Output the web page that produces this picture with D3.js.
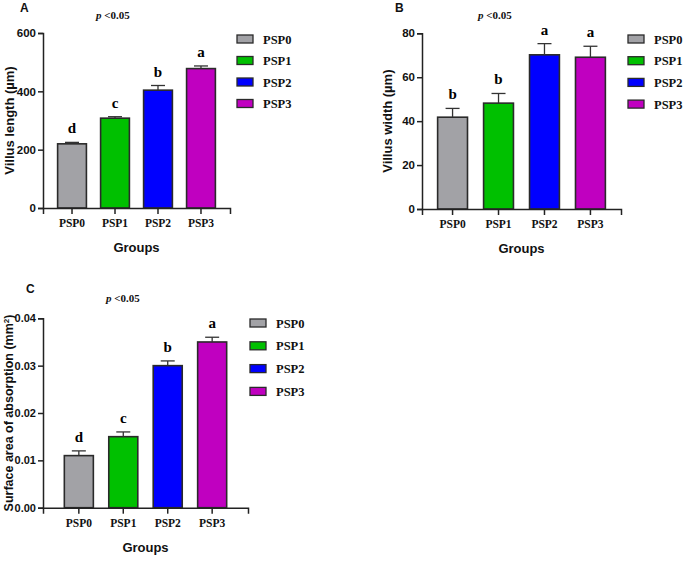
<!DOCTYPE html>
<html><head><meta charset="utf-8">
<script src="https://cdn.jsdelivr.net/npm/d3@7"></script>
<style>body{margin:0;background:#fff}svg{display:block}</style>
</head><body>
<svg id="c" width="685" height="562"></svg>
<script>
const groups = ["PSP0","PSP1","PSP2","PSP3"];
const colors = ["#A2A2A6","#00C000","#0000FF","#C000C0"];
const lengthMean = [220, 308, 404, 478];
const lengthErr = [5, 5, 16, 9];
const lengthLetters = ["d","c","b","a"];
const lengthTicks = [0, 200, 400, 600];
const widthMean = [41.8, 48.2, 70.2, 69.1];
const widthErr = [4.0, 4.4, 5.1, 5.0];
const widthLetters = ["b","b","a","a"];
const widthTicks = [0, 20, 40, 60, 80];
const areaMean = [0.011, 0.015, 0.030, 0.035];
const areaErr = [0.001, 0.001, 0.001, 0.001];
const areaLetters = ["d","c","b","a"];
const areaTicks = [0, 0.01, 0.02, 0.03, 0.04];

const svg = d3.select("#c");
const SANS = "'Liberation Sans', Arial, sans-serif";
const SERIF = "'Liberation Serif', 'Times New Roman', serif";

function panel(o){
  const g = svg.append("g");
  const x = d3.scaleBand().domain(groups).range([o.x0, o.x1]).paddingInner(o.pi).paddingOuter(o.po);
  const y = d3.scaleLinear().domain([0, o.max]).range([o.yb, o.yt]);
  g.selectAll("rect.bar").data(groups).join("rect")
    .attr("x", d => x(d)).attr("width", x.bandwidth())
    .attr("y", (d,i) => y(o.mean[i])).attr("height", (d,i) => y(0) - y(o.mean[i]))
    .attr("fill", (d,i) => colors[i]).attr("stroke", "#2a2a2a").attr("stroke-width", 1.6);
  const cap = 7;
  groups.forEach((d,i) => {
    const cx = x(d) + x.bandwidth()/2;
    g.append("line").attr("x1", cx).attr("x2", cx).attr("y1", y(o.mean[i])).attr("y2", y(o.mean[i]+o.err[i]))
      .attr("stroke", "#333").attr("stroke-width", 1.3);
    g.append("line").attr("x1", cx-cap).attr("x2", cx+cap).attr("y1", y(o.mean[i]+o.err[i])).attr("y2", y(o.mean[i]+o.err[i]))
      .attr("stroke", "#333").attr("stroke-width", 1.3);
    g.append("text").attr("x", cx).attr("y", y(o.mean[i]+o.err[i]) - 9)
      .attr("text-anchor","middle").attr("font-family", SERIF).attr("font-weight","bold").attr("font-size", 15)
      .text(o.letters[i]);
  });
  const ya = g.append("g").attr("transform", `translate(${o.x0},0)`)
    .call(d3.axisLeft(y).tickValues(o.ticks).tickFormat(o.fmt).tickSizeOuter(0).tickSize(5).tickPadding(2));
  ya.select(".domain").attr("stroke","#222").attr("stroke-width",1.5);
  ya.selectAll(".tick line").attr("stroke","#222").attr("stroke-width",1.5);
  ya.selectAll(".tick text").attr("font-family", SANS).attr("font-weight","bold").attr("font-size", o.tickFs).attr("fill","#111");
  const xa = g.append("g").attr("transform", `translate(0,${o.yb})`)
    .call(d3.axisBottom(x).tickSizeOuter(0).tickSize(6).tickPadding(5));
  xa.select(".domain").attr("stroke","#222").attr("stroke-width",1.5);
  xa.selectAll(".tick line").attr("stroke","#222").attr("stroke-width",1.5);
  xa.selectAll(".tick text").attr("font-family", SERIF).attr("font-weight","bold").attr("font-size", 11.5).attr("fill","#111");
  g.append("text").attr("x", (o.x0+o.x1)/2).attr("y", o.yb + 44).attr("text-anchor","middle")
    .attr("font-family", SANS).attr("font-weight","bold").attr("font-size", 13).attr("fill","#111").text("Groups");
  const yt = g.append("text").attr("transform", `translate(${o.ytx},${(o.yt+o.yb)/2}) rotate(-90)`)
    .attr("text-anchor","middle").attr("font-family", SANS).attr("font-weight","bold").attr("font-size", o.ytFs).attr("fill","#111");
  yt.append("tspan").text(o.ytitle);
  if (o.sup) {
    yt.append("tspan").attr("font-size", 8).attr("dy", -4).text(o.sup);
    yt.append("tspan").attr("dy", 4).text(")");
  }
  g.append("text").attr("x", o.lx).attr("y", o.ly).attr("font-family", SANS).attr("font-weight","bold").attr("font-size", 12).attr("fill","#111").text(o.label);
  const pt = g.append("text").attr("x", o.px).attr("y", o.py).attr("font-family", SERIF).attr("font-weight","bold").attr("font-size", 11).attr("fill","#111");
  pt.append("tspan").attr("font-style","italic").text("p");
  pt.append("tspan").text(" <0.05");
  groups.forEach((d,i) => {
    const yy = o.legY + i*o.legDy;
    g.append("rect").attr("x", o.legX).attr("y", yy-4).attr("width", 16).attr("height", 8)
      .attr("fill", colors[i]).attr("stroke","#2a2a2a").attr("stroke-width",1.3);
    g.append("text").attr("x", o.legX + 26).attr("y", yy + 4.5).attr("font-family", SERIF).attr("font-weight","bold").attr("font-size", 12.5).attr("fill","#111").text(d);
  });
}

panel({x0:43, x1:230, pi:0.33, po:0.34, yb:208, yt:33, max:600, mean:lengthMean, err:lengthErr, letters:lengthLetters,
  ticks:lengthTicks, fmt:d3.format("d"), tickFs:11.5, ytx:14, ytFs:13, ytitle:"Villus length (µm)", label:"A", lx:20, ly:12, px:96, py:19,
  legX:237, legY:39, legDy:21.5});
panel({x0:422, x1:621, pi:0.35, po:0.34, yb:209, yt:33.3, max:80, mean:widthMean, err:widthErr, letters:widthLetters,
  ticks:widthTicks, fmt:d3.format("d"), tickFs:11.5, ytx:392, ytFs:13, ytitle:"Villus width (µm)", label:"B", lx:395, ly:12, px:478, py:19,
  legX:628, legY:39, legDy:21.7});
panel({x0:43, x1:248, pi:0.347, po:0.48, yb:507.7, yt:318.3, max:0.04, mean:areaMean, err:areaErr, letters:areaLetters,
  ticks:areaTicks, fmt:d3.format(".2f"), tickFs:11, ytx:13, ytFs:12.5, ytitle:"Surface area of absorption (mm", sup:"2", label:"C", lx:26, ly:293, px:106, py:302,
  legX:250, legY:323, legDy:22.8});
</script>
</body></html>
